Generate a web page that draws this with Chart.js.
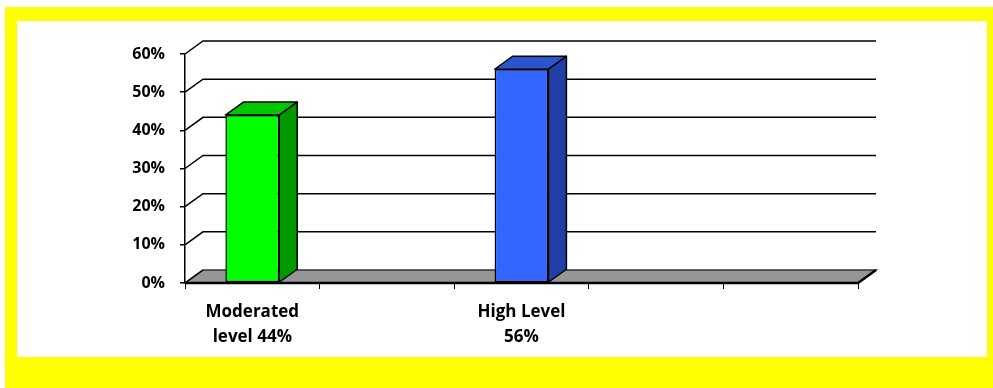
<!DOCTYPE html>
<html>
<head>
<meta charset="utf-8">
<script src="https://cdn.jsdelivr.net/npm/chart.js@4.4.0/dist/chart.umd.min.js"></script>
<style>
  html, body { margin: 0; padding: 0; background: #fff; }
  .frame { position: absolute; left: 5px; top: 7px; width: 988px; height: 381px; background: #ffff00; }
  .inner { position: absolute; left: 17px; top: 21px; width: 970px; height: 336px; background: #fff; }
  .wrap { position: absolute; left: 0; top: 0; width: 993px; height: 388px; }
</style>
</head>
<body>
<div class="frame"></div>
<div class="inner"></div>
<div class="wrap"><canvas id="chart"></canvas></div>
<script>
// chart data
const categories = [['Moderated', 'level 44%'], '', ['High Level', '56%'], '', ''];
const values = [44, null, 56, null, null];
const frontColors = ['#00ff00', null, '#3366ff', null, null];
const topColors = ['#00c800', null, '#2a55cc', null, null];
const sideColors = ['#009a00', null, '#2040a8', null, null];

// depth of the 3d look
const DX = 18, DY = -13;

const threeD = {
  id: 'threeD',
  beforeDatasetsDraw(chart) {
    const ctx = chart.ctx;
    const y = chart.scales.y;
    const left = chart.chartArea.left, right = chart.chartArea.right;
    const base = y.getPixelForValue(0);
    ctx.save();
    // floor
    ctx.beginPath();
    ctx.moveTo(left, base);
    ctx.lineTo(right, base);
    ctx.lineTo(right + DX, base + DY);
    ctx.lineTo(left + DX, base + DY);
    ctx.closePath();
    ctx.fillStyle = '#969696';
    ctx.fill();
    ctx.strokeStyle = '#333';
    ctx.lineWidth = 1.5;
    ctx.stroke();
    // back wall grid lines + left wall diagonals
    ctx.strokeStyle = '#000';
    ctx.lineWidth = 1.5;
    y.ticks.forEach(t => {
      const py = y.getPixelForValue(t.value);
      ctx.beginPath();
      ctx.moveTo(left, py);
      ctx.lineTo(left + DX, py + DY);
      if (t.value > 0) ctx.lineTo(right + DX, py + DY);
      ctx.stroke();
    });
    // floor front edge
    ctx.lineWidth = 2.5;
    ctx.beginPath();
    ctx.moveTo(left, base);
    ctx.lineTo(right, base);
    ctx.lineTo(right + DX, base + DY);
    ctx.stroke();
    ctx.restore();
  },
  afterDatasetsDraw(chart) {
    const ctx = chart.ctx;
    const meta = chart.getDatasetMeta(0);
    ctx.save();
    ctx.strokeStyle = '#000';
    ctx.lineWidth = 1.5;
    ctx.lineJoin = 'round';
    meta.data.forEach((bar, i) => {
      if (values[i] == null) return;
      const p = bar.getProps(['x', 'y', 'base', 'width'], true);
      const l = p.x - p.width / 2, r = p.x + p.width / 2;
      // top face
      ctx.beginPath();
      ctx.moveTo(l, p.y);
      ctx.lineTo(l + DX, p.y + DY);
      ctx.lineTo(r + DX, p.y + DY);
      ctx.lineTo(r, p.y);
      ctx.closePath();
      ctx.fillStyle = topColors[i];
      ctx.fill();
      ctx.stroke();
      // side face
      ctx.beginPath();
      ctx.moveTo(r, p.y);
      ctx.lineTo(r + DX, p.y + DY);
      ctx.lineTo(r + DX, p.base + DY);
      ctx.lineTo(r, p.base);
      ctx.closePath();
      ctx.fillStyle = sideColors[i];
      ctx.fill();
      ctx.stroke();
    });
    ctx.restore();
  }
};

const labelFont = { family: 'Open Sans', weight: 'bold', size: 17, lineHeight: 1.45 };

new Chart(document.getElementById('chart'), {
  type: 'bar',
  data: {
    labels: categories,
    datasets: [{
      data: values,
      backgroundColor: frontColors,
      borderColor: '#000',
      borderWidth: 1.5,
      borderSkipped: false,
      categoryPercentage: 1,
      barPercentage: 0.4
    }]
  },
  options: {
    responsive: true,
    maintainAspectRatio: false,
    animation: false,
    layout: { padding: { left: 0, right: 135, top: 54, bottom: 0 } },
    plugins: { legend: { display: false }, tooltip: { enabled: false } },
    scales: {
      x: {
        offset: true,
        grid: { offset: true, drawOnChartArea: false, drawTicks: true, tickLength: 6, color: '#000', lineWidth: 1 },
        border: { display: false },
        ticks: { color: '#000', font: labelFont, padding: 11, maxRotation: 0, autoSkip: false },
        afterFit(s) { s.height = 105; }
      },
      y: {
        min: 0,
        max: 60,
        ticks: { stepSize: 10, color: '#000', font: { family: 'Open Sans', weight: 'bold', size: 16 }, padding: 15, callback: v => v + '%' },
        grid: { drawOnChartArea: false, drawTicks: true, tickLength: 5, color: '#000', lineWidth: 1.5 },
        border: { display: true, color: '#000', width: 1.5 },
        afterFit(s) { s.width = 185; }
      }
    }
  },
  plugins: [threeD]
});
</script>
</body>
</html>
